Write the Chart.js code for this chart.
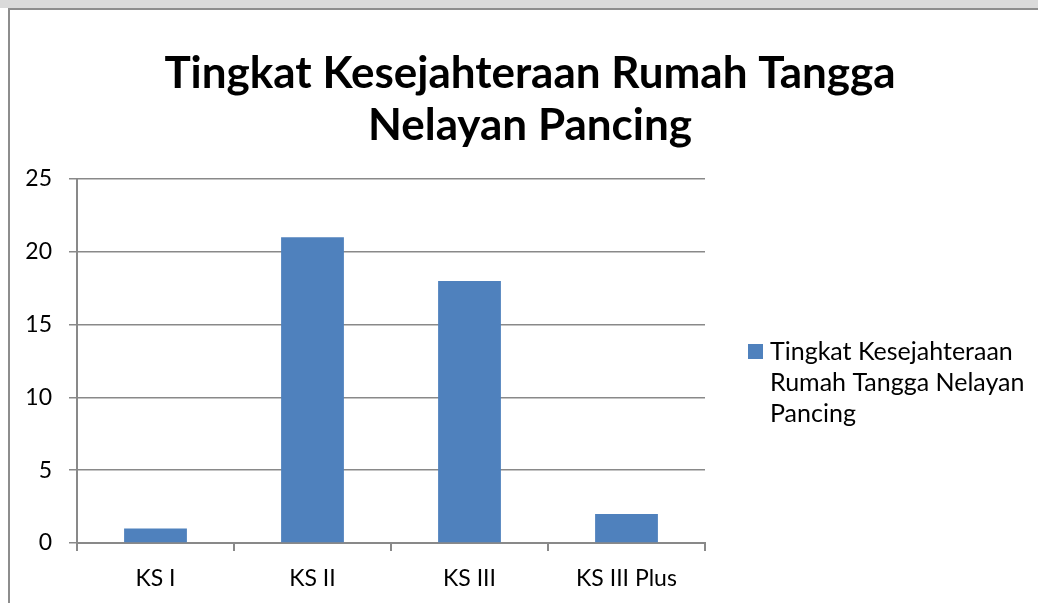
<!DOCTYPE html>
<html>
<head>
<meta charset="utf-8">
<script src="https://cdn.jsdelivr.net/npm/chart.js@4.4.0/dist/chart.umd.min.js"></script>
<style>
    html, body { margin: 0; padding: 0; background: #ffffff; overflow: hidden; }
    .band { position: absolute; left: 0; top: 0; width: 1038px; height: 8px; background: #dadada; }
    .frame {
        position: absolute; left: 8px; top: 8px; width: 1100px; height: 700px;
        border-left: 2px solid #8d8d8d; border-top: 2px solid #8d8d8d;
    }
    .wrap { position: absolute; left: 0; top: 0; width: 1038px; height: 603px; }
</style>
</head>
<body>
<div class="band"></div>
<div class="frame"></div>
<div class="wrap"><canvas id="kesejahteraanChart" width="1038" height="603"></canvas></div>
<script>
// Data
const categories = ['KS I', 'KS II', 'KS III', 'KS III Plus'];
const seriesValues = [1, 21, 18, 2];
const seriesLabel = 'Tingkat Kesejahteraan Rumah Tangga Nelayan Pancing';
const titleLines = ['Tingkat Kesejahteraan Rumah Tangga', 'Nelayan Pancing'];
const yTicks = [0, 5, 10, 15, 20, 25];

const FONT = 'Lato, "Open Sans", sans-serif';
const BAR_COLOR = '#4f81bd';
const GRID_COLOR = '#898989';

// Judul digambar di tengah kanvas (Excel memusatkan ke seluruh area grafik)
const centeredTitle = {
    id: 'centeredTitle',
    afterDraw(chart) {
        const ctx = chart.ctx;
        ctx.save();
        ctx.font = 'bold 44px ' + FONT;
        ctx.fillStyle = '#000000';
        ctx.textAlign = 'center';
        ctx.textBaseline = 'middle';
        titleLines.forEach((line, i) => {
            ctx.fillText(line, 530, 74 + i * 52);
        });
        ctx.restore();
    }
};

// Legenda di kanan, teks dibungkus seperti Excel
const wrappedLegend = {
    id: 'wrappedLegend',
    afterDraw(chart) {
        const ctx = chart.ctx;
        const area = chart.chartArea;
        const ds = chart.data.datasets[0];
        const x = area.right + 43;
        const textX = x + 22;
        const maxWidth = chart.width - textX;
        ctx.save();
        ctx.font = '25px ' + FONT;
        const words = ds.label.split(' ');
        const lines = [];
        let current = '';
        words.forEach(w => {
            const test = current ? current + ' ' + w : w;
            if (ctx.measureText(test).width > maxWidth && current) {
                lines.push(current);
                current = w;
            } else {
                current = test;
            }
        });
        if (current) lines.push(current);

        const y0 = 352;
        const lineHeight = 31;
        ctx.fillStyle = ds.backgroundColor;
        ctx.fillRect(x, y0 - 8, 15, 15);
        ctx.fillStyle = '#000000';
        ctx.textBaseline = 'middle';
        lines.forEach((line, i) => {
            ctx.fillText(line, textX, y0 + i * lineHeight);
        });
        ctx.restore();
    }
};

document.addEventListener('DOMContentLoaded', () => {
    const ctx = document.getElementById('kesejahteraanChart').getContext('2d');
    new Chart(ctx, {
        type: 'bar',
        data: {
            labels: categories,
            datasets: [{
                label: seriesLabel,
                data: seriesValues,
                backgroundColor: BAR_COLOR,
                borderWidth: 0,
                barPercentage: 0.4,
                categoryPercentage: 1.0
            }]
        },
        options: {
            responsive: false,
            animation: false,
            layout: { padding: { left: 0, right: 333, top: 179, bottom: 0 } },
            plugins: {
                legend: { display: false },
                tooltip: { enabled: false },
                title: { display: false }
            },
            scales: {
                x: {
                    offset: true,
                    afterFit: axis => { axis.height = 60; },
                    grid: {
                        offset: true,
                        drawOnChartArea: false,
                        drawTicks: true,
                        tickLength: 8,
                        color: GRID_COLOR,
                        lineWidth: 2
                    },
                    border: { display: true, color: GRID_COLOR, width: 2 },
                    ticks: {
                        color: '#000000',
                        padding: 14,
                        font: { family: FONT, size: 23 }
                    }
                },
                y: {
                    min: 0,
                    max: 25,
                    afterFit: axis => { axis.width = 77; },
                    afterBuildTicks: axis => { axis.ticks = yTicks.map(v => ({ value: v })); },
                    grid: {
                        color: GRID_COLOR,
                        lineWidth: 1.5,
                        drawTicks: true,
                        tickLength: 8
                    },
                    border: { display: true, color: GRID_COLOR, width: 2 },
                    ticks: {
                        color: '#000000',
                        padding: 17,
                        font: { family: FONT, size: 23 }
                    }
                }
            }
        },
        plugins: [centeredTitle, wrappedLegend]
    });
});
</script>
</body>
</html>
